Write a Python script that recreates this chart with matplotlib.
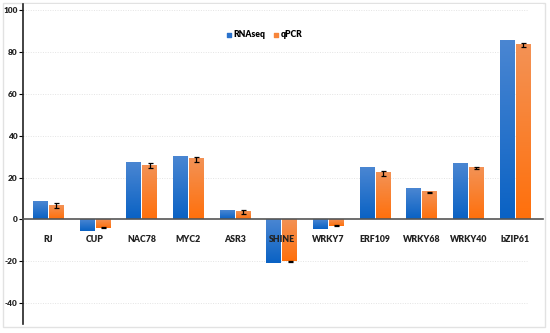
import numpy as np
import matplotlib
matplotlib.use('Agg')
import matplotlib.pyplot as plt
from matplotlib.colors import LinearSegmentedColormap
from matplotlib.patches import Rectangle

genes = ['RJ', 'CUP', 'NAC78', 'MYC2', 'ASR3', 'SHINE', 'WRKY7', 'ERF109', 'WRKY68', 'WRKY40', 'bZIP61']
rnaseq = [8.5, -5.5, 27.0, 30.0, 4.3, -21.0, -4.5, 24.5, 14.5, 26.3, 85.5]
qpcr = [6.5, -4.0, 25.8, 28.8, 3.7, -20.0, -3.0, 22.0, 13.0, 24.8, 83.5]
qpcr_err = [1.2, 0.3, 1.2, 1.2, 1.0, 0.3, 0.3, 1.2, 0.3, 0.5, 1.0]

plt.rcParams['font.family'] = ['Lato', 'DejaVu Sans']

blue_cm = LinearSegmentedColormap.from_list('b', ['#0a62c4', '#4a86d2'])
orange_cm = LinearSegmentedColormap.from_list('o', ['#ff700c', '#f39255'])

fig = plt.figure(figsize=(5.5, 3.33), dpi=100)
ax = fig.add_axes([0.042, 0.027, 0.945, 0.961])

x = np.arange(len(genes))
w = 0.31
off = 0.17
grad = np.linspace(0, 1, 64).reshape(-1, 1)

def gbar(xc, v, cmap):
    lo, hi = min(0, v), max(0, v)
    ax.imshow(grad, cmap=cmap, origin='lower', aspect='auto',
              extent=[xc - w / 2, xc + w / 2, lo, hi], zorder=1)

for i in range(len(genes)):
    gbar(x[i] - off, rnaseq[i], blue_cm)
    gbar(x[i] + off, qpcr[i], orange_cm)
ax.errorbar(x + off, qpcr, yerr=qpcr_err, fmt='none', ecolor='black',
            elinewidth=0.9, capsize=1.8, capthick=0.9, zorder=3)

ax.set_xlim(-0.54, 10.6)
ax.set_ylim(-50, 103)
for yv in range(-40, 101, 20):
    if yv != 0:
        ax.axhline(yv, xmax=0.97, color='#e4e4e4', lw=0.7, ls=(0, (1, 1.5)), zorder=0)

ax.spines['top'].set_visible(False)
ax.spines['right'].set_visible(False)
ax.spines['bottom'].set_position(('data', 0))
ax.spines['bottom'].set_color('#555555')
ax.spines['bottom'].set_linewidth(1.2)
ax.spines['bottom'].set_zorder(4)
ax.spines['left'].set_color('#222222')
ax.spines['left'].set_linewidth(1.2)
ax.xaxis.set_zorder(5)

ax.set_xticks(x)
ax.set_xticklabels(genes, fontsize=6.3, fontweight='heavy', color='#222222')
ax.tick_params(axis='x', length=0, pad=11)
ax.set_yticks(range(-40, 101, 20))
ax.set_yticklabels([str(v) for v in range(-40, 101, 20)], fontsize=6, fontweight='heavy', color='#222222')
ax.tick_params(axis='y', length=3, width=0.8, pad=1)

hb = ax.scatter([], [], marker='s', s=12, color='#2a72cc', label='RNAseq')
ho = ax.scatter([], [], marker='s', s=12, color='#f7853a', label='qPCR')
ax.legend(handles=[hb, ho], loc='center', bbox_to_anchor=(0.464, 0.905), ncol=2,
          frameon=False, prop={'size': 6.2, 'weight': 'heavy'},
          handletextpad=0.25, columnspacing=0.9, handlelength=0.6)

fig.patches.append(Rectangle((3 / 550, 6 / 333), 542 / 550, 324 / 333,
                             transform=fig.transFigure, fill=False,
                             edgecolor='#e2e2e2', lw=1.0, zorder=-1))

fig.savefig('out.png', dpi=100)
